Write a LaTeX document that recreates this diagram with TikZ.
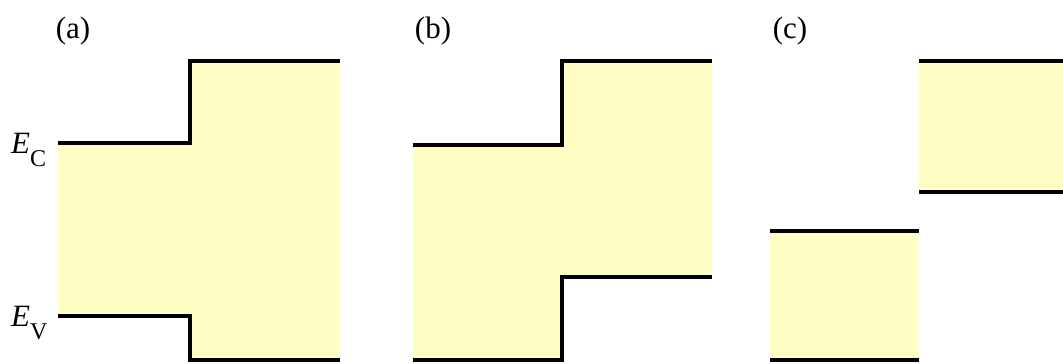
\documentclass[tikz,border=0pt]{standalone}
\usepackage{fontspec}
\setmainfont{Liberation Serif}
\definecolor{gapfill}{RGB}{255,254,196}
\tikzset{
  band/.style={line width=4.5pt, line cap=butt, line join=miter},
  gap/.style={fill=gapfill, draw=none},
  panel/.style={font=\fontsize{31}{34}\selectfont, inner sep=0pt, anchor=base},
  level/.style={font=\fontsize{31}{34}\selectfont, inner sep=0pt, anchor=base west}
}
\newcommand{\lvl}[1]{\textit{E}\raisebox{-0.42em}{\fontsize{24}{26}\selectfont #1}}
\begin{document}
\begin{tikzpicture}[x=1pt,y=-1pt]
\useasboundingbox (0,0) rectangle (1063,364);

% (a) straddling alignment
\fill[gap] (58,143) -- (190,143) -- (190,61) -- (340,61) -- (340,360) -- (190,360) -- (190,316) -- (58,316) -- cycle;
\draw[band] (58,143) -- (190,143) -- (190,61) -- (340,61);
\draw[band] (58,316) -- (190,316) -- (190,360) -- (340,360);
\node[panel] (la) at (73,38) {(a)};
\node[level] (ec) at (11,153) {\lvl{C}};
\node[level] (ev) at (11,326) {\lvl{V}};

% (b) staggered alignment
\fill[gap] (413,145) -- (562,145) -- (562,61) -- (712,61) -- (712,277) -- (562,277) -- (562,360) -- (413,360) -- cycle;
\draw[band] (413,145) -- (562,145) -- (562,61) -- (712,61);
\draw[band] (413,360) -- (562,360) -- (562,277) -- (712,277);
\node[panel] (lb) at (433,38) {(b)};

% (c) broken-gap alignment
\fill[gap] (770,231) rectangle (919,360);
\fill[gap] (919,61) rectangle (1063,192);
\draw[band] (770,231) -- (919,231);
\draw[band] (770,360) -- (919,360);
\draw[band] (919,61) -- (1063,61);
\draw[band] (919,192) -- (1063,192);
\node[panel] (lc) at (790,38) {(c)};
\end{tikzpicture}
\end{document}
